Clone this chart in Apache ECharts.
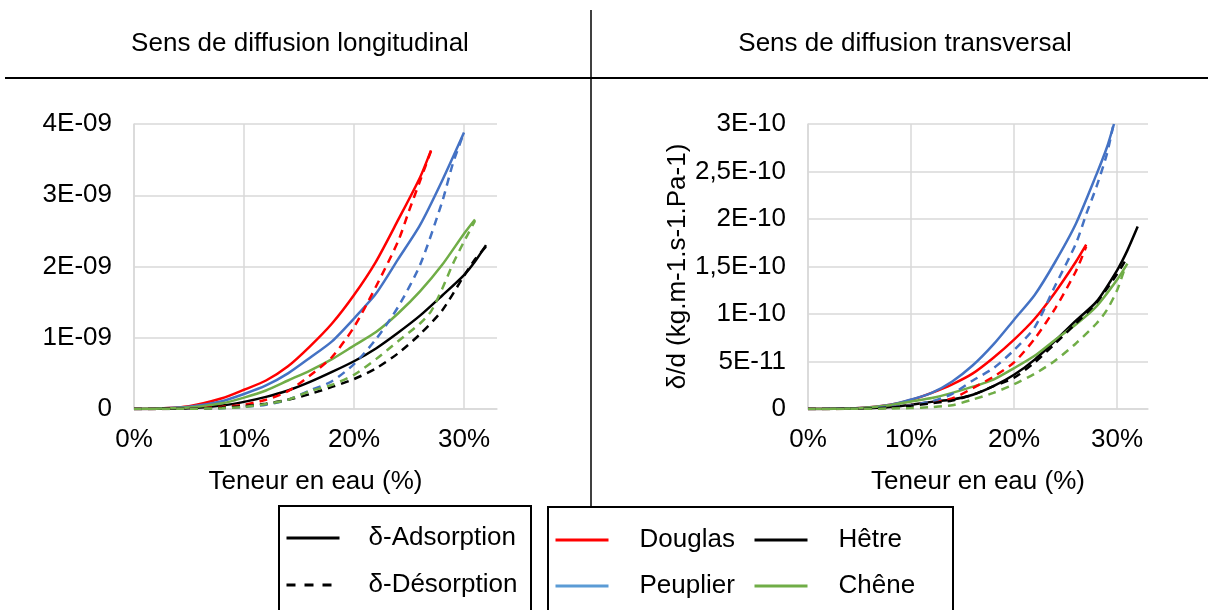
<!DOCTYPE html>
<html>
<head>
<meta charset="utf-8">
<script src="https://cdn.jsdelivr.net/npm/echarts@6/dist/echarts.min.js"></script>
<style>
  html, body { margin: 0; padding: 0; background: #fff; }
  #chart { width: 1208px; height: 610px; }
</style>
</head>
<body>
<div id="chart"></div>
<script>
// teneur en eau (%) , valeur  (E-09 a gauche, E-10 a droite)
var longDouglasAds = [[0,0],[2,0.005],[5,0.04],[8,0.15],[10,0.27],[12,0.4],[14,0.6],[16,0.88],[18,1.2],[20,1.6],[22,2.07],[24,2.65],[26,3.25],[27,3.63]];
var longDouglasDes = [[0,0],[5,0.005],[8,0.03],[10,0.06],[12,0.13],[14,0.25],[16,0.47],[18,0.73],[20,1.15],[22,1.72],[24,2.35],[25,2.78],[26,3.2],[27,3.62]];
var longPeuplierAds = [[0,0],[2,0.005],[5,0.03],[8,0.11],[10,0.21],[12,0.33],[14,0.5],[16,0.72],[18,0.95],[20,1.27],[22,1.62],[24,2.1],[26,2.58],[28,3.2],[30,3.88]];
var longPeuplierDes = [[0,0],[5,0.003],[8,0.01],[10,0.03],[12,0.06],[14,0.13],[16,0.26],[18,0.39],[20,0.63],[22,0.98],[24,1.43],[26,2.02],[28,2.9],[29,3.45],[30,3.88]];
var longCheneAds = [[0,0],[2,0.005],[5,0.02],[8,0.08],[10,0.16],[12,0.26],[14,0.4],[16,0.54],[18,0.7],[20,0.89],[22,1.08],[24,1.34],[26,1.65],[28,2.02],[30,2.46],[31,2.66]];
var longCheneDes = [[0,0],[5,0.003],[8,0.01],[10,0.03],[12,0.07],[14,0.13],[16,0.25],[18,0.34],[20,0.48],[22,0.7],[24,0.95],[26,1.2],[27,1.37],[28,1.68],[29,2.04],[30,2.35],[31,2.64]];
var longHetreAds = [[0,0],[2,0.003],[5,0.01],[8,0.05],[10,0.1],[12,0.17],[14,0.26],[16,0.38],[18,0.52],[20,0.67],[22,0.85],[24,1.07],[26,1.31],[28,1.59],[30,1.88],[31,2.07],[32,2.3]];
var longHetreDes = [[0,0],[5,0.005],[8,0.02],[10,0.04],[12,0.075],[14,0.13],[16,0.21],[18,0.31],[20,0.42],[22,0.57],[24,0.78],[26,1.05],[28,1.38],[30,1.87],[31,2.1],[32,2.28]];

var transDouglasAds = [[0,0],[2,0.002],[5,0.01],[8,0.045],[10,0.095],[12,0.17],[14,0.26],[16,0.375],[18,0.54],[20,0.73],[22,0.95],[24,1.23],[26,1.55],[27,1.73]];
var transDouglasDes = [[0,0],[5,0.003],[8,0.015],[10,0.04],[12,0.07],[14,0.11],[16,0.22],[18,0.34],[20,0.49],[22,0.74],[24,1.06],[26,1.45],[27,1.71]];
var transPeuplierAds = [[0,0],[2,0.002],[5,0.01],[8,0.045],[10,0.1],[12,0.17],[14,0.29],[16,0.46],[18,0.68],[20,0.94],[22,1.2],[24,1.55],[26,1.95],[28,2.47],[29,2.75],[29.7,3.0]];
var transPeuplierDes = [[0,0],[5,0.005],[8,0.02],[10,0.04],[12,0.08],[14,0.16],[16,0.3],[18,0.43],[20,0.62],[22,0.86],[24,1.3],[26,1.74],[27,2.05],[28,2.34],[29,2.68],[29.6,2.97]];
var transHetreAds = [[0,0],[2,0.001],[5,0.005],[8,0.02],[10,0.045],[12,0.075],[14,0.1],[16,0.15],[18,0.24],[20,0.36],[22,0.52],[24,0.72],[26,0.93],[28,1.13],[30,1.46],[31,1.67],[32,1.92]];
var transHetreDes = [[0,0],[5,0.003],[8,0.015],[10,0.035],[12,0.06],[14,0.09],[16,0.15],[18,0.24],[20,0.33],[22,0.49],[24,0.69],[26,0.9],[28,1.12],[30,1.42],[31,1.6]];
var transCheneAds = [[0,0],[2,0.001],[5,0.008],[8,0.04],[10,0.08],[12,0.115],[14,0.17],[16,0.235],[18,0.31],[20,0.43],[22,0.56],[24,0.73],[26,0.89],[28,1.08],[30,1.36],[31,1.53]];
var transCheneDes = [[0,0],[5,0.002],[8,0.005],[10,0.01],[12,0.02],[14,0.04],[16,0.1],[18,0.17],[20,0.26],[22,0.37],[24,0.51],[26,0.69],[28,0.9],[29,1.04],[30,1.25],[30.8,1.5]];

var xTicks = [0, 10, 20, 30];
var titles = ['Sens de diffusion longitudinal', 'Sens de diffusion transversal'];

var FONT = "'Liberation Sans', Arial, sans-serif";
var RED = '#ff0000', BLUE = '#4472c4', GREEN = '#70ad47', BLACK = '#000000';

// format Excel 0E+00 avec virgule
function sci(v) {
    if (v === 0) return '0';
    var s = Number(v.toPrecision(3)).toExponential();
    var parts = s.split('e');
    var e = parseInt(parts[1], 10);
    var a = Math.abs(e);
    return parts[0].replace('.', ',') + 'E' + (e < 0 ? '-' : '+') + (a < 10 ? '0' + a : a);
}

function makeSeries(name, pts, color, dashed, idx, unit) {
    return {
        type: 'line',
        name: name,
        xAxisIndex: idx,
        yAxisIndex: idx,
        symbol: 'none',
        smooth: 0.25,
        lineStyle: { color: color, width: 2.5, type: dashed ? [8, 6] : 'solid' },
        itemStyle: { color: color },
        data: pts.map(function (p) { return [p[0], p[1] * unit]; })
    };
}

var chart = echarts.init(document.getElementById('chart'));

var xAxisCommon = {
    type: 'value',
    min: 0,
    max: 33,
    interval: 10,
    axisLine: { show: true, lineStyle: { color: '#d9d9d9', width: 1.5 } },
    axisTick: { show: false },
    splitLine: { show: true, showMaxLine: false, lineStyle: { color: '#d9d9d9', width: 1.5 } },
    axisLabel: {
        margin: 18, fontSize: 26, color: '#000', fontFamily: FONT, showMaxLabel: false,
        formatter: function (v) { return xTicks.indexOf(v) >= 0 ? v + '%' : ''; }
    },
    name: 'Teneur en eau (%)',
    nameLocation: 'middle',
    nameGap: 60,
    nameTextStyle: { fontSize: 26, color: '#000', fontFamily: FONT }
};

var yAxisCommon = {
    type: 'value',
    min: 0,
    axisLine: { show: true, lineStyle: { color: '#d9d9d9', width: 1.5 } },
    axisTick: { show: false },
    splitLine: { show: true, lineStyle: { color: '#d9d9d9', width: 1.5 } },
    axisLabel: { margin: 22, fontSize: 26, color: '#000', fontFamily: FONT, formatter: sci }
};

var series = [
    makeSeries('Douglas', longDouglasAds, RED, false, 0, 1e-9),
    makeSeries('Peuplier', longPeuplierAds, BLUE, false, 0, 1e-9),
    makeSeries('Hêtre', longHetreAds, BLACK, false, 0, 1e-9),
    makeSeries('Chêne', longCheneAds, GREEN, false, 0, 1e-9),
    makeSeries('Douglas', longDouglasDes, RED, true, 0, 1e-9),
    makeSeries('Peuplier', longPeuplierDes, BLUE, true, 0, 1e-9),
    makeSeries('Hêtre', longHetreDes, BLACK, true, 0, 1e-9),
    makeSeries('Chêne', longCheneDes, GREEN, true, 0, 1e-9),
    makeSeries('Douglas', transDouglasAds, RED, false, 1, 1e-10),
    makeSeries('Peuplier', transPeuplierAds, BLUE, false, 1, 1e-10),
    makeSeries('Hêtre', transHetreAds, BLACK, false, 1, 1e-10),
    makeSeries('Chêne', transCheneAds, GREEN, false, 1, 1e-10),
    makeSeries('Douglas', transDouglasDes, RED, true, 1, 1e-10),
    makeSeries('Peuplier', transPeuplierDes, BLUE, true, 1, 1e-10),
    makeSeries('Hêtre', transHetreDes, BLACK, true, 1, 1e-10),
    makeSeries('Chêne', transCheneDes, GREEN, true, 1, 1e-10),
    // entrees de legende seulement
    makeSeries('δ-Adsorption', [], BLACK, false, 0, 1),
    makeSeries('δ-Désorption', [], BLACK, true, 0, 1)
];

// pas de symbole dans les icones de legende
var legendBase = {
    orient: 'vertical', padding: 0, itemGap: 20,
    itemWidth: 53, itemHeight: 14, selectedMode: false,
    itemStyle: { opacity: 0 },
    lineStyle: { width: 3 }
};

var option = {
    backgroundColor: '#fff',
    animation: false,
    grid: [
        { left: 134, top: 124, width: 363, height: 285 },
        { left: 808, top: 124, width: 340, height: 285 }
    ],
    xAxis: [
        Object.assign({ gridIndex: 0 }, xAxisCommon),
        Object.assign({ gridIndex: 1 }, xAxisCommon)
    ],
    yAxis: [
        Object.assign({ gridIndex: 0 }, yAxisCommon, { max: 4e-9, interval: 1e-9 }),
        Object.assign({ gridIndex: 1 }, yAxisCommon, {
            max: 3e-10, interval: 5e-11,
            name: 'δ/d (kg.m-1.s-1.Pa-1)',
            nameLocation: 'middle',
            nameRotate: 90,
            nameGap: 115,
            nameTextStyle: { fontSize: 26, color: '#000', fontFamily: FONT }
        })
    ],
    legend: [
        Object.assign({}, legendBase, {
            left: 285, top: 525, itemGap: 21,
            textStyle: { fontSize: 26, color: '#000', fontFamily: FONT, padding: [0, 0, 0, 24] },
            data: ['δ-Adsorption', { name: 'δ-Désorption', lineStyle: { width: 3, type: [9, 9] } }]
        }),
        Object.assign({}, legendBase, {
            left: 554, top: 527,
            textStyle: { fontSize: 26, color: '#000', fontFamily: FONT, padding: [0, 0, 0, 26] },
            data: ['Douglas', { name: 'Peuplier', lineStyle: { width: 3, color: '#5b9bd5' } }]
        }),
        Object.assign({}, legendBase, {
            left: 753, top: 527,
            textStyle: { fontSize: 26, color: '#000', fontFamily: FONT, padding: [0, 0, 0, 26] },
            data: ['Hêtre', 'Chêne']
        })
    ],
    graphic: [
        { type: 'text', x: 300, y: 44, style: { text: titles[0], fontSize: 26, fontFamily: FONT, fill: '#000', align: 'center', verticalAlign: 'middle' } },
        { type: 'text', x: 905, y: 44, style: { text: titles[1], fontSize: 26, fontFamily: FONT, fill: '#000', align: 'center', verticalAlign: 'middle' } },
        { type: 'line', shape: { x1: 5, y1: 78, x2: 1208, y2: 78 }, style: { stroke: '#000', lineWidth: 2 } },
        { type: 'line', shape: { x1: 591, y1: 10, x2: 591, y2: 507 }, style: { stroke: '#000', lineWidth: 1.5 } },
        { type: 'rect', shape: { x: 279, y: 506, width: 252, height: 130 }, style: { fill: 'none', stroke: '#000', lineWidth: 2 } },
        { type: 'rect', shape: { x: 548, y: 507, width: 405, height: 130 }, style: { fill: 'none', stroke: '#000', lineWidth: 2 } }
    ],
    series: series
};

chart.setOption(option);
</script>
</body>
</html>
